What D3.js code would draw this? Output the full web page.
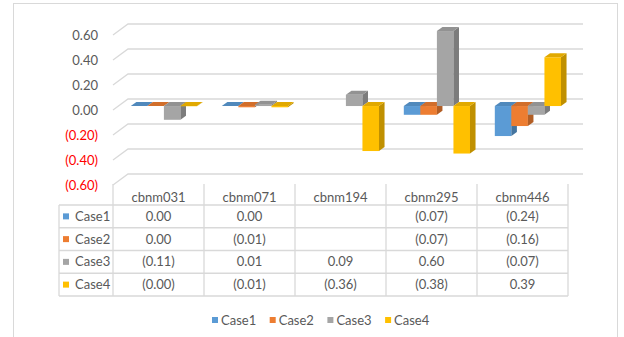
<!DOCTYPE html>
<html>
<head>
<meta charset="utf-8">
<script src="https://cdn.jsdelivr.net/npm/d3@7"></script>
<style>
  body { margin: 0; background: #fff; }
  svg { display: block; font-family: Lato, "Open Sans", sans-serif; }
</style>
</head>
<body>
<script>
// chart data
var categories = ["cbnm031", "cbnm071", "cbnm194", "cbnm295", "cbnm446"];
var seriesNames = ["Case1", "Case2", "Case3", "Case4"];
var seriesColors = ["#5B9BD5", "#ED7D31", "#A5A5A5", "#FFC000"];
var case1 = [0.00, 0.00, null, -0.07, -0.24];
var case2 = [0.00, -0.01, null, -0.07, -0.16];
var case3 = [-0.11, 0.01, 0.09, 0.60, -0.07];
var case4 = [-0.002, -0.01, -0.36, -0.38, 0.39];
var yTicks = [-0.6, -0.4, -0.2, 0, 0.2, 0.4, 0.6];

var seriesValues = [case1, case2, case3, case4];

var width = 624, height = 337;
var textColor = "#595959", lineColor = "#D9D9D9";

// depth offset of the back wall
var depthX = 15, depthY = -11;
var barZ0 = 0.36, barZ1 = 0.73;

function fmt(v) {
    if (v == null) return "";
    return v < 0 ? "(" + Math.abs(v).toFixed(2) + ")" : v.toFixed(2);
}

var svg = d3.select("body").append("svg")
    .attr("width", width)
    .attr("height", height);

// outer frame
svg.append("rect")
    .attr("x", 13.5).attr("y", 3.5)
    .attr("width", 604).attr("height", 340)
    .attr("fill", "#fff")
    .attr("stroke", lineColor);

var x = d3.scaleBand().domain(categories).range([113, 568]);
var xs = d3.scaleBand().domain(seriesNames).range([0, x.bandwidth()]).paddingOuter(0.75);
var y = d3.scaleLinear().domain([-0.6, 0.6]).range([185, 35]);

function pt(px, v, z) {
    return [px + depthX * z, y(v) + depthY * z];
}

// gridlines on the back wall
svg.append("g").selectAll("path")
    .data(yTicks)
    .join("path")
    .attr("fill", "none")
    .attr("stroke", lineColor)
    .attr("stroke-width", 1.3)
    .attr("d", function (v) {
        var a = pt(113, v, 0), b = pt(113, v, 1), c = pt(568, v, 1);
        return d3.line()([a, b, c]);
    });

// y axis labels
var yAxis = svg.append("g")
    .attr("transform", "translate(101,0)")
    .call(d3.axisLeft(y).tickValues(yTicks).tickSize(0).tickPadding(3).tickFormat(fmt));
yAxis.select(".domain").remove();
yAxis.selectAll("text")
    .attr("font-family", "Lato, sans-serif")
    .attr("font-size", 13)
    .attr("fill", function (v) { return v < 0 ? "#FF0000" : textColor; });

// bars, drawn left to right so side faces get covered
var bars = svg.append("g");
categories.forEach(function (cat, ci) {
    seriesNames.forEach(function (s, si) {
        var v = seriesValues[si][ci];
        if (v == null) return;
        var col = d3.color(seriesColors[si]);
        var x0 = x(cat) + xs(s), x1 = x0 + xs.bandwidth();
        var top = Math.max(v, 0), bot = Math.min(v, 0);
        var g = bars.append("g");
        if (top !== bot) {
            // front face
            var f0 = pt(x0, top, barZ0), f1 = pt(x1, bot, barZ0);
            g.append("rect")
                .attr("x", f0[0]).attr("y", f0[1])
                .attr("width", f1[0] - f0[0]).attr("height", f1[1] - f0[1])
                .attr("fill", col.formatHex());
            // right side face
            g.append("path")
                .attr("fill", col.darker(0.8).formatHex())
                .attr("d", d3.line()([pt(x1, top, barZ0), pt(x1, top, barZ1), pt(x1, bot, barZ1), pt(x1, bot, barZ0)]) + "Z");
        }
        // top face
        g.append("path")
            .attr("fill", col.darker(0.35).formatHex())
            .attr("d", d3.line()([pt(x0, top, barZ0), pt(x1, top, barZ0), pt(x1, top, barZ1), pt(x0, top, barZ1)]) + "Z");
    });
});

// data table
var row = d3.scaleBand().domain(seriesNames).range([205, 296]);
var table = svg.append("g");
var hLines = seriesNames.map(function (s) { return row(s); }).concat([296]);
table.selectAll("line.h")
    .data(hLines)
    .join("line")
    .attr("x1", 59).attr("x2", 568)
    .attr("y1", function (d) { return d; }).attr("y2", function (d) { return d; })
    .attr("stroke", lineColor).attr("stroke-width", 1.3);
var vLines = categories.map(function (c) { return x(c); }).concat([568]);
table.selectAll("line.v")
    .data(vLines)
    .join("line")
    .attr("x1", function (d) { return d; }).attr("x2", function (d) { return d; })
    .attr("y1", 184).attr("y2", 296)
    .attr("stroke", lineColor).attr("stroke-width", 1.3);
table.append("line")
    .attr("x1", 59).attr("x2", 59).attr("y1", 205).attr("y2", 296)
    .attr("stroke", lineColor).attr("stroke-width", 1.3);

// header
table.selectAll("text.head")
    .data(categories)
    .join("text")
    .attr("x", function (c) { return x(c) + x.bandwidth() / 2; })
    .attr("y", 197)
    .attr("dy", "0.35em")
    .attr("text-anchor", "middle")
    .attr("font-size", 13)
    .attr("fill", textColor)
    .text(function (c) { return c; });

// row labels with keys
seriesNames.forEach(function (s, si) {
    var cy = row(s) + row.bandwidth() / 2;
    table.append("rect")
        .attr("x", 63).attr("y", cy - 3)
        .attr("width", 6).attr("height", 6)
        .attr("fill", seriesColors[si]);
    table.append("text")
        .attr("x", 75).attr("y", cy).attr("dy", "0.35em")
        .attr("font-size", 13).attr("fill", textColor)
        .text(s);
    categories.forEach(function (c, ci) {
        table.append("text")
            .attr("x", x(c) + x.bandwidth() / 2)
            .attr("y", cy).attr("dy", "0.35em")
            .attr("text-anchor", "middle")
            .attr("font-size", 13).attr("fill", textColor)
            .text(fmt(seriesValues[si][ci]));
    });
});

// legend
var legend = svg.append("g").attr("transform", "translate(212,320)");
var leg = legend.selectAll("g")
    .data(seriesNames)
    .join("g")
    .attr("transform", function (d, i) { return "translate(" + (i * 57.7) + ",0)"; });
leg.append("rect")
    .attr("x", 0).attr("y", -3)
    .attr("width", 6).attr("height", 6)
    .attr("fill", function (d, i) { return seriesColors[i]; });
leg.append("text")
    .attr("x", 9).attr("y", 0).attr("dy", "0.35em")
    .attr("font-size", 13).attr("fill", textColor)
    .text(function (d) { return d; });
</script>
</body>
</html>
